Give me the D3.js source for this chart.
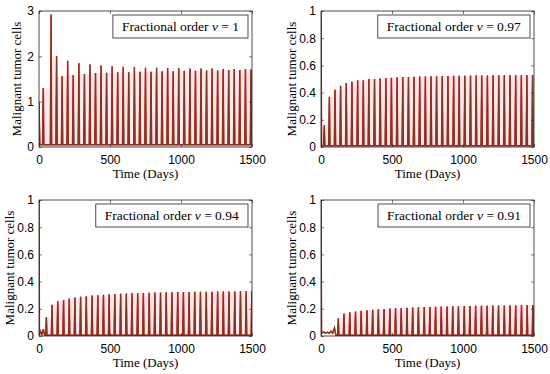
<!DOCTYPE html>
<html lang="en">
<head>
<meta charset="utf-8">
<title>Malignant tumor cells</title>
<script src="https://d3js.org/d3.v7.min.js"></script>
<style>
  body { margin: 0; background: #fff; }
  .tick text { font-family: "Liberation Sans", Arial, sans-serif; font-size: 12px; fill: #000; }
  .lbl { font-family: "Liberation Serif", "DejaVu Serif", serif; font-size: 13px; fill: #000; }
  .leg { font-family: "Liberation Serif", "DejaVu Serif", serif; font-size: 13.5px; fill: #000; }
</style>
</head>
<body>
<div id="chart"></div>
<script>
// ---- data ----
const xTicks = [0, 500, 1000, 1500];
const yTicksWhole = [0, 1, 2, 3];
const yTicksFrac = [0, 0.2, 0.4, 0.6, 0.8, 1];
const orders = ["1", "0.97", "0.94", "0.91"];

// initial part of each curve (day, value) before the regular spikes
const p1Early = [[0, 1], [6, 0.05]];
const p2Early = [[0, 1], [4, 0.01]];
const p3Early = [[0, 1], [3, 0.01], [10, 0.035], [20, 0.01], [30, 0.05], [40, 0.005]];
const p4Early = [[0, 1], [4, 0.02], [20, 0.03], [32, 0.02], [45, 0.028], [58, 0.02], [70, 0.035], [82, 0.02], [95, 0.06], [105, 0.005]];

// spike days and peak values
const p1Days = [30, 85, 124, 163, 202, 241, 281, 320, 359, 398, 437, 476, 515, 554, 593, 632, 672, 711, 750, 789, 828, 867, 906, 945, 984, 1023, 1063, 1102, 1141, 1180, 1219, 1258, 1297, 1336, 1375, 1414, 1454, 1493];
const p1Peaks = [1.3, 2.92, 2.0, 1.56, 1.9, 1.59, 1.85, 1.61, 1.82, 1.63, 1.8, 1.64, 1.78, 1.65, 1.77, 1.65, 1.76, 1.66, 1.75, 1.66, 1.75, 1.67, 1.74, 1.67, 1.74, 1.68, 1.73, 1.68, 1.73, 1.69, 1.73, 1.69, 1.72, 1.7, 1.72, 1.7, 1.72, 1.71];
const p1Base = 0.05;

const p2Days = [23, 59, 99, 138, 178, 218, 258, 298, 337, 377, 417, 457, 496, 536, 576, 616, 655, 695, 735, 775, 814, 854, 894, 934, 973, 1013, 1053, 1093, 1132, 1172, 1212, 1252, 1291, 1331, 1371, 1411, 1450, 1490];
const p2Peaks = [0.16, 0.37, 0.42, 0.45, 0.47, 0.48, 0.49, 0.49, 0.5, 0.5, 0.505, 0.507, 0.51, 0.512, 0.514, 0.515, 0.517, 0.518, 0.519, 0.52, 0.521, 0.522, 0.522, 0.523, 0.524, 0.524, 0.525, 0.525, 0.526, 0.526, 0.527, 0.527, 0.527, 0.528, 0.528, 0.528, 0.529, 0.529];
const p2Base = 0.01;

const p3Days = [52, 92, 132, 173, 213, 253, 293, 333, 374, 414, 454, 494, 534, 575, 615, 655, 695, 735, 776, 816, 856, 896, 936, 977, 1017, 1057, 1097, 1137, 1178, 1218, 1258, 1298, 1338, 1379, 1419, 1459, 1499];
const p3Peaks = [0.14, 0.23, 0.255, 0.265, 0.275, 0.283, 0.288, 0.293, 0.297, 0.3, 0.303, 0.306, 0.308, 0.31, 0.312, 0.314, 0.315, 0.317, 0.318, 0.319, 0.32, 0.321, 0.322, 0.323, 0.323, 0.324, 0.325, 0.325, 0.326, 0.326, 0.327, 0.327, 0.328, 0.328, 0.329, 0.329, 0.33];
const p3Base = 0.005;

const p4Days = [122, 162, 203, 243, 283, 324, 364, 404, 444, 485, 525, 565, 606, 646, 686, 727, 767, 807, 847, 888, 928, 968, 1009, 1049, 1089, 1130, 1170, 1210, 1250, 1291, 1331, 1371, 1412, 1452, 1492];
const p4Peaks = [0.13, 0.165, 0.175, 0.18, 0.185, 0.19, 0.193, 0.196, 0.199, 0.202, 0.204, 0.206, 0.208, 0.21, 0.211, 0.213, 0.214, 0.215, 0.216, 0.217, 0.218, 0.219, 0.22, 0.221, 0.222, 0.222, 0.223, 0.224, 0.224, 0.225, 0.226, 0.226, 0.227, 0.227, 0.228];
const p4Base = 0.005;

// ---- layout ----
const width = 550, height = 374;
const panels = [
  {left: 39, top: 11, early: p1Early, days: p1Days, peaks: p1Peaks, base: p1Base, yMax: 3, yTicks: yTicksWhole, order: orders[0], labOff: -22},
  {left: 321, top: 11, early: p2Early, days: p2Days, peaks: p2Peaks, base: p2Base, yMax: 1, yTicks: yTicksFrac, order: orders[1], labOff: -29},
  {left: 39, top: 200, early: p3Early, days: p3Days, peaks: p3Peaks, base: p3Base, yMax: 1, yTicks: yTicksFrac, order: orders[2], labOff: -29},
  {left: 321, top: 200, early: p4Early, days: p4Days, peaks: p4Peaks, base: p4Base, yMax: 1, yTicks: yTicksFrac, order: orders[3], labOff: -29}
];
const pw = 213, ph = 136;
const rise = 5, fall = 4;

const svg = d3.select("#chart").append("svg")
  .attr("width", width)
  .attr("height", height);

panels.forEach(function(p, i) {
  const x = d3.scaleLinear().domain([0, 1500]).range([0, pw]);
  const y = d3.scaleLinear().domain([0, p.yMax]).range([ph, 0]);

  const g = svg.append("g").attr("transform", "translate(" + p.left + "," + p.top + ")");

  g.append("clipPath").attr("id", "clip" + i)
    .append("rect").attr("width", pw).attr("height", ph);

  // build curve points
  let pts = p.early.slice();
  p.days.forEach(function(t, k) {
    pts.push([t - rise, p.base]);
    pts.push([t, p.peaks[k]]);
    pts.push([t + fall, p.base]);
  });
  pts.push([1500, p.base]);

  // faint pink haze behind the spikes (lower of each neighbouring pair)
  const haze = p.days.map((t, k) => [t, Math.min(p.peaks[k], p.peaks[Math.min(k + 1, p.peaks.length - 1)])]);
  haze.push([1500, p.peaks[p.peaks.length - 1]]);
  g.append("path")
    .datum(haze)
    .attr("clip-path", "url(#clip" + i + ")")
    .attr("fill", "#fde8ef")
    .attr("d", d3.area().curve(d3.curveStepAfter)
      .x(d => x(d[0])).y0(y(0)).y1(d => y(d[1])));

  const line = d3.line().x(d => x(d[0])).y(d => y(d[1]));
  g.append("path").datum(pts)
    .attr("clip-path", "url(#clip" + i + ")")
    .attr("fill", "none").attr("stroke", "#e3141c").attr("stroke-width", 1.5)
    .attr("d", line);
  g.append("path").datum(pts)
    .attr("clip-path", "url(#clip" + i + ")")
    .attr("fill", "none").attr("stroke", "#7a3c1c").attr("stroke-width", 1.1)
    .attr("d", line);

  // axes with inward ticks on all four sides
  g.append("g").attr("transform", "translate(0," + ph + ")")
    .call(d3.axisBottom(x).tickValues(xTicks).tickSizeInner(-3).tickSizeOuter(0).tickPadding(8).tickFormat(d3.format("d")))
    .call(a => a.select(".domain").remove());
  g.append("g")
    .call(d3.axisTop(x).tickValues(xTicks).tickSizeInner(-3).tickSizeOuter(0).tickFormat(""))
    .call(a => a.select(".domain").remove());
  g.append("g")
    .call(d3.axisLeft(y).tickValues(p.yTicks).tickSizeInner(-3).tickSizeOuter(0).tickPadding(5).tickFormat(d3.format("")))
    .call(a => a.select(".domain").remove());
  g.append("g").attr("transform", "translate(" + pw + ",0)")
    .call(d3.axisRight(y).tickValues(p.yTicks).tickSizeInner(-3).tickSizeOuter(0).tickFormat(""))
    .call(a => a.select(".domain").remove());
  g.selectAll(".tick line").attr("stroke", "#222").attr("stroke-width", 0.6);

  g.append("rect").attr("width", pw).attr("height", ph)
    .attr("fill", "none").attr("stroke", "#222").attr("stroke-width", 0.8);

  // axis labels
  g.append("text").attr("class", "lbl")
    .attr("text-anchor", "middle")
    .attr("transform", "translate(" + (p.labOff + 4) + "," + ph / 2 + ") rotate(-90)")
    .text("Malignant tumor cells");
  g.append("text").attr("class", "lbl")
    .attr("text-anchor", "middle")
    .attr("x", pw / 2).attr("y", ph + 31)
    .text("Time (Days)");

  // legend box
  const lg = g.append("g");
  const lt = lg.append("text").attr("class", "leg").attr("y", 0);
  lt.append("tspan").text("Fractional order ");
  lt.append("tspan").attr("font-style", "italic").text("v");
  lt.append("tspan").text(" = " + p.order);
  const bb = lt.node().getBBox();
  const bw = bb.width + 18, bh = 23;
  const bx = pw - 4 - bw, by = 4;
  lg.insert("rect", "text")
    .attr("x", bx).attr("y", by).attr("width", bw).attr("height", bh)
    .attr("fill", "#fff").attr("stroke", "#222").attr("stroke-width", 0.8);
  lt.attr("x", bx + 9).attr("y", by + 16);
});
</script>
</body>
</html>
